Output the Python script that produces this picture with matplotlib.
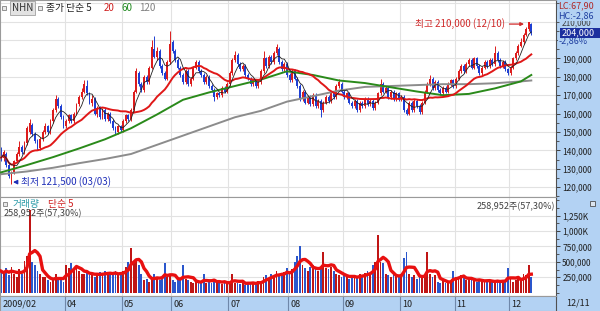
import numpy as np
import pandas as pd
import matplotlib
matplotlib.use("Agg")
import matplotlib.pyplot as plt
from matplotlib.patches import Rectangle
from matplotlib.ticker import FuncFormatter, MultipleLocator
from matplotlib.transforms import blended_transform_factory

plt.rcParams['font.family'] = ['Noto Sans CJK KR', 'DejaVu Sans']

# daily prices, thousand won (2009-02-25 .. 2009-12-11)
opens = [
    140, 136, 138, 132, 126, 128, 134, 138, 142, 139,
    144, 150, 154, 149, 145, 141, 146, 150, 153, 150,
    156, 162, 168, 164, 158, 153, 156, 159, 156, 160,
    165, 169, 172, 175, 171, 166, 168, 160, 163, 158,
    162, 157, 160, 156, 152, 150, 153, 151, 156, 159,
    157, 162, 172, 182, 176, 173, 180, 177, 185, 195,
    191, 194, 186, 182, 179, 188, 199, 194, 189, 185,
    181, 177, 183, 176, 179, 185, 188, 183, 181, 177,
    180, 175, 173, 169, 171, 170, 174, 172, 176, 182,
    189, 192, 187, 184, 186, 181, 179, 176, 178, 175,
    177, 183, 190, 186, 191, 188, 193, 195, 188, 184,
    187, 181, 178, 183, 179, 175, 168, 172, 166, 169,
    165, 170, 164, 167, 162, 166, 169, 167, 171, 169,
    175, 176, 172, 169, 171, 166, 164, 167, 162, 166,
    164, 168, 165, 167, 163, 166, 171, 176, 172, 174,
    169, 172, 168, 171, 168, 169, 162, 160, 166, 162,
    167, 164, 161, 166, 172, 176, 179, 174, 177, 173,
    171, 174, 172, 176, 178, 175, 179, 183, 186, 183,
    187, 189, 185, 190, 186, 182, 185, 188, 186, 189,
    187, 193, 189, 186, 188, 184, 182, 185, 190, 193,
    197, 199, 203, 206, 209]
closes = [
    136, 139, 132, 126, 128, 134, 138, 142, 139, 144,
    152, 155, 149, 145, 141, 146, 150, 153, 150, 156,
    162, 168, 164, 158, 153, 156, 159, 156, 160, 165,
    169, 172, 176, 171, 166, 168, 160, 163, 158, 162,
    157, 160, 156, 152, 150, 153, 151, 156, 159, 157,
    162, 172, 183, 176, 173, 180, 177, 185, 196, 191,
    194, 186, 182, 179, 188, 198, 194, 189, 185, 181,
    177, 183, 176, 179, 185, 188, 183, 181, 177, 180,
    175, 173, 169, 171, 170, 174, 172, 176, 182, 189,
    192, 187, 184, 186, 181, 179, 176, 178, 175, 177,
    183, 190, 186, 191, 188, 193, 196, 188, 184, 187,
    181, 178, 183, 179, 175, 168, 172, 166, 169, 165,
    170, 164, 167, 162, 166, 169, 167, 171, 169, 175,
    177, 172, 169, 171, 166, 164, 167, 162, 166, 164,
    168, 165, 167, 163, 166, 171, 176, 172, 174, 169,
    172, 168, 171, 168, 169, 162, 160, 166, 162, 167,
    164, 161, 166, 172, 176, 179, 174, 177, 173, 171,
    174, 172, 176, 178, 175, 179, 183, 186, 183, 187,
    189, 185, 190, 186, 182, 185, 188, 186, 189, 187,
    193, 189, 186, 188, 184, 182, 185, 190, 193, 197,
    199, 203, 206, 210, 204]
highs = [
    142, 140, 139, 133, 129, 135, 139, 145, 143, 145,
    153, 157, 155, 150, 146, 147, 151, 155, 154, 157,
    163, 170, 169, 165, 159, 157, 160, 160, 161, 166,
    170, 174, 178, 178, 172, 170, 169, 164, 164, 163,
    163, 161, 161, 157, 153, 154, 154, 157, 160, 160,
    163, 173, 185, 183, 177, 181, 181, 186, 200, 202,
    196, 195, 187, 183, 189, 205, 200, 195, 190, 186,
    182, 184, 184, 180, 186, 189, 189, 184, 182, 181,
    181, 176, 174, 172, 172, 175, 175, 177, 183, 190,
    194, 193, 188, 187, 187, 182, 180, 179, 179, 178,
    184, 194, 191, 192, 192, 194, 198, 196, 189, 188,
    188, 182, 184, 184, 180, 176, 173, 173, 170, 170,
    171, 171, 168, 168, 167, 170, 170, 172, 172, 176,
    179, 177, 173, 172, 172, 167, 168, 168, 167, 167,
    169, 169, 168, 168, 167, 172, 179, 177, 175, 175,
    173, 173, 172, 172, 170, 170, 163, 167, 167, 168,
    168, 165, 167, 173, 177, 181, 180, 178, 178, 174,
    175, 175, 177, 179, 179, 180, 184, 187, 187, 188,
    190, 190, 191, 191, 187, 186, 189, 189, 190, 190,
    197, 194, 190, 189, 189, 185, 186, 191, 194, 198,
    201, 204, 207, 210, 209.5]
lows = [
    134, 134, 131, 125, 121.5, 127, 133, 137, 138, 138,
    143, 149, 148, 144, 140, 140, 145, 149, 149, 149,
    155, 161, 163, 157, 152, 152, 155, 155, 155, 159,
    164, 168, 171, 170, 165, 164, 159, 158, 157, 157,
    156, 156, 155, 151, 149, 149, 150, 150, 155, 156,
    156, 161, 171, 175, 172, 172, 176, 176, 184, 190,
    189, 185, 181, 178, 178, 187, 193, 188, 184, 180,
    176, 176, 175, 175, 178, 184, 182, 180, 176, 176,
    174, 172, 167, 168, 169, 169, 171, 171, 175, 181,
    188, 186, 183, 183, 180, 178, 175, 175, 174, 174,
    176, 182, 185, 185, 187, 187, 192, 187, 183, 183,
    180, 177, 177, 178, 174, 167, 167, 165, 165, 164,
    164, 163, 163, 158, 161, 165, 166, 166, 168, 168,
    174, 171, 168, 168, 165, 163, 163, 161, 161, 163,
    163, 164, 164, 162, 162, 165, 170, 171, 171, 168,
    168, 167, 167, 167, 167, 161, 159, 159, 161, 161,
    163, 160, 160, 165, 171, 175, 173, 173, 172, 170,
    170, 171, 171, 175, 174, 174, 178, 182, 182, 182,
    186, 184, 184, 185, 181, 181, 184, 185, 185, 186,
    186, 188, 185, 185, 183, 181, 181, 184, 189, 192,
    196, 198, 202, 205, 203]
# volume, thousand shares
volumes = [
    350, 300, 400, 280, 420, 300, 250, 380, 300,
    520, 600, 1350, 500, 450, 350, 300, 250,
    250, 200, 180, 220, 300, 250, 200, 180,
    450, 400, 480, 380, 420, 350, 300,
    300, 350, 280, 320, 250, 300,
    330, 300, 350, 280, 320, 300, 350, 280,
    300, 350, 420, 500, 720, 480, 550, 450, 300,
    200, 220, 180, 250, 300,
    250, 200, 220, 480, 250, 300, 200, 180, 220, 200, 450, 220, 200,
    180, 160, 200, 150, 170, 310, 160, 180, 150, 220, 190, 160, 140, 180, 150, 170, 300, 160,
    150, 140, 180, 130, 170, 150, 160, 140, 190, 170,
    250, 280, 230, 300, 260, 350, 300, 280, 330, 400,
    300, 380, 500, 600, 750,
    450, 400, 350, 420, 450,
    380, 350, 400, 660, 400, 380, 420, 350,
    300, 280, 260, 300, 250, 230, 280, 260, 240, 300, 270,
    320, 350, 300,
    450, 500, 940, 500, 480,
    300, 280, 250, 300, 270, 260, 300,
    560, 660,
    300, 250, 280, 230, 300, 250, 280,
    660, 300, 250, 280,
    180, 150, 200, 160, 190, 170, 360,
    250, 220, 280, 240, 200, 230, 210,
    200, 180, 220, 190, 170, 210, 190, 180,
    160, 200, 180, 210, 190, 400,
    220, 180, 200, 240, 210, 300, 280, 451.92, 258.952]

# longer moving averages (they need history before the window)
ma_days = [0, 10, 20, 30, 40, 50, 60, 70, 80, 90, 100,
           110, 120, 130, 140, 150, 160, 170, 180, 190, 200, 204]
ma60 = [128, 132, 136.3, 141, 146, 152, 159.5, 167.5, 171.5, 175, 178.5,
        183, 181, 178, 176.6, 174.3, 172, 170, 170.7, 173.7, 177.5, 181]
ma120 = [127, 128.5, 130.5, 133, 135.3, 138, 143, 148, 153, 158, 161.5,
         166.5, 169.5, 172.5, 174.5, 175, 175.5, 176, 176, 176.5, 177.5, 178]

holidays = ['2009-05-01', '2009-05-05', '2009-10-02']
dates = pd.bdate_range('2009-02-25', '2009-12-11')
dates = dates[~dates.isin(pd.to_datetime(holidays))]

df = pd.DataFrame({'open': opens, 'high': highs, 'low': lows, 'close': closes},
                  index=dates) * 1000
df['volume'] = np.array(volumes) * 1000
x = np.arange(len(df))

RED = '#dc1c1c'
BLUE = '#1e3fd2'
VRED = '#c01515'
VBLUE = '#2a56cc'
PANEL = '#b3d2f3'
GRID = '#e2e2e2'

W, H = 600, 311
fig = plt.figure(figsize=(6, 3.11), dpi=100)


def fx(px):
    return px / W


def fy(py):
    return 1 - py / H


ax_p = fig.add_axes([0, fy(197), fx(556), 197 / H])
ax_v = fig.add_axes([0, fy(296), fx(556), 99 / H], sharex=ax_p)
ax_x = fig.add_axes([0, 0, fx(556), 15 / H], sharex=ax_p)
fig.patches.append(Rectangle((fx(556), 0), 1 - fx(556), 1, transform=fig.transFigure,
                             facecolor=PANEL, edgecolor='none', zorder=-1))

# month positions
pos = pd.Series(x, index=dates).groupby(dates.to_period('M')).first()

# ---- price panel
ax_p.set_ylim(114600, 221800)
ax_p.set_xlim(-0.4, 213.5)
for lvl in range(120000, 220001, 10000):
    ax_p.axhline(lvl, color=GRID, lw=0.8, zorder=0)
for p in pos.values[2:]:
    ax_p.axvline(p - 0.5, color=GRID, lw=0.8, zorder=0)
    ax_v.axvline(p - 0.5, color=GRID, lw=0.8, zorder=0)

up = df.close >= df.open
cols = np.where(up, RED, BLUE)
ax_p.vlines(x, df.low, df.high, colors=cols, lw=0.7, zorder=2)
body = np.maximum((df.close - df.open).abs(), 250)
ax_p.bar(x, body, bottom=np.minimum(df.open, df.close), width=0.7, color=cols,
         lw=0, zorder=2)

ax_p.plot(ma_days, np.array(ma120) * 1000, color='#8c8c8c', lw=1.4, zorder=3)
ax_p.plot(ma_days, np.array(ma60) * 1000, color='#2a8a1a', lw=1.4, zorder=3)
ax_p.plot(x, df.close.rolling(20, min_periods=1).mean(), color='#e01818', lw=1.4, zorder=3)
ax_p.plot(x, df.close.rolling(5, min_periods=1).mean(), color='#222222', lw=0.6, zorder=4)

ax_p.yaxis.tick_right()
ax_p.set_yticks(range(120000, 190001, 10000))
ax_p.yaxis.set_minor_locator(MultipleLocator(5000))
ax_p.yaxis.set_major_formatter(FuncFormatter(lambda v, _: f"{v:,.0f}"))
ax_p.tick_params(axis='y', which='major', direction='out', length=3, width=0.7,
                 color='#404040', labelsize=6, pad=1.5, labelcolor='#202020')
ax_p.tick_params(axis='y', which='minor', direction='out', length=2, width=0.6,
                 color='#404040')
ax_p.tick_params(axis='x', bottom=False, labelbottom=False)

hi_idx = int(np.argmax(df.high.values))
lo_idx = int(np.argmin(df.low.values))
hi_val = df.high.iloc[hi_idx]
lo_val = df.low.iloc[lo_idx]
ax_p.annotate(f"최고 {hi_val:,.0f} ({dates[hi_idx]:%m/%d})",
              xy=(hi_idx - 1.8, hi_val - 1300), xytext=(hi_idx - 9, hi_val - 1300),
              ha='right', va='center', fontsize=7, color='#d02a2a',
              arrowprops=dict(arrowstyle='-|>', color='#d02a2a', lw=0.9,
                              mutation_scale=5, shrinkA=1, shrinkB=0))
ax_p.annotate(f"최저 {lo_val:,.0f} ({dates[lo_idx]:%m/%d})",
              xy=(lo_idx + 0.6, lo_val + 1200), xytext=(lo_idx + 3.6, lo_val + 1200),
              ha='left', va='center', fontsize=7, color='#1f2fb8',
              arrowprops=dict(arrowstyle='-|>', color='#1f2fb8', lw=0.9,
                              mutation_scale=6, shrinkA=1, shrinkB=0))

# ---- volume panel
ax_v.set_ylim(-53600, 1553000)
for lvl in range(250000, 1250001, 250000):
    ax_v.axhline(lvl, color=GRID, lw=0.8, zorder=0)
vcols = np.where(up, VRED, VBLUE)
ax_v.bar(x, df.volume, width=0.7, color=vcols, lw=0, zorder=2)
ax_v.plot(x, df.volume.rolling(5, min_periods=1).mean(), color='#e81010', lw=2.4,
          zorder=3)
ax_v.yaxis.tick_right()
ax_v.set_yticks(range(250000, 1250001, 250000))
ax_v.yaxis.set_minor_locator(MultipleLocator(125000))
ax_v.yaxis.set_major_formatter(
    FuncFormatter(lambda v, _: f"{v / 1000:,.0f}K" if v >= 1e6 else f"{v:,.0f}"))
ax_v.tick_params(axis='y', which='major', direction='out', length=3, width=0.7,
                 color='#404040', labelsize=6, pad=1.5, labelcolor='#202020')
ax_v.tick_params(axis='y', which='minor', direction='out', length=2, width=0.6,
                 color='#404040')
ax_v.tick_params(axis='x', bottom=False, labelbottom=False)

# ---- date strip
ax_x.set_facecolor(PANEL)
ax_x.set_ylim(0, 1)
ax_x.set_yticks([])
ax_x.tick_params(axis='x', bottom=False, labelbottom=False)
for i, (per, p) in enumerate(pos.items()):
    if i == 0:
        ax_x.text(0.6, 0.45, f"{per.year}/{per.month:02d}", fontsize=6.5,
                  va='center', ha='left', color='#202020')
    elif i >= 2:
        ax_x.axvline(p - 0.5, color='#6f88aa', lw=0.8)
        ax_x.text(p + 0.2, 0.45, f"{per.month:02d}", fontsize=6.5,
                  va='center', ha='left', color='#202020')

for ax in (ax_p, ax_v, ax_x):
    for side in ('left', 'top', 'bottom'):
        ax.spines[side].set_color('#9a9a9a')
        ax.spines[side].set_linewidth(0.8)
    ax.spines['right'].set_color('#505050')
    ax.spines['right'].set_linewidth(0.8)

# ---- header texts
fig.patches.append(Rectangle((fx(2), fy(10)), 4 / W, 4 / H, transform=fig.transFigure,
                             facecolor='#e8e8e8', edgecolor='#808080', lw=0.6))
fig.patches.append(Rectangle((fx(38), fy(10)), 4 / W, 4 / H, transform=fig.transFigure,
                             facecolor='#e8e8e8', edgecolor='#808080', lw=0.6))
fig.text(fx(12), fy(8), 'NHN', fontsize=7, va='center', ha='left', color='#303030',
         bbox=dict(boxstyle='square,pad=0.2', fc='#e2e2e2', ec='#a0a0a0', lw=0.6))
fig.text(fx(46), fy(8), '종가 단순 5', fontsize=7, va='center', ha='left', color='#202020')
fig.text(fx(104), fy(8), '20', fontsize=7, va='center', ha='left', color='#d02020')
fig.text(fx(121), fy(8), '60', fontsize=7, va='center', ha='left', color='#1f8a1f')
fig.text(fx(139), fy(8), '120', fontsize=7, va='center', ha='left', color='#808080')

last_vol = df.volume.iloc[-1]
vol_ratio = last_vol / df.volume.iloc[-2] * 100
vol_txt = f"{last_vol:,.0f}주({vol_ratio:.2f}%)".replace('.', ',')
fig.patches.append(Rectangle((fx(3), fy(206)), 4 / W, 4 / H, transform=fig.transFigure,
                             facecolor='#e8e8e8', edgecolor='#808080', lw=0.6))
fig.text(fx(13), fy(204), '거래량', fontsize=7, va='center', ha='left', color='#2a9aa8')
fig.text(fx(48), fy(204), '단순 5', fontsize=7, va='center', ha='left', color='#d02020')
fig.text(fx(4), fy(213.5), vol_txt, fontsize=6.5, va='center', ha='left', color='#404040')
fig.text(fx(555), fy(207), vol_txt, fontsize=6.5, va='center', ha='right', color='#404040')
fig.patches.append(Rectangle((fx(590), fy(206)), 5 / W, 5 / H, transform=fig.transFigure,
                             facecolor='#dde6f0', edgecolor='#505050', lw=0.6))

# ---- right panel summary
last = df.close.iloc[-1]
lc = (last / lo_val - 1) * 100
hc = (last / hi_val - 1) * 100
chg = (last / df.close.iloc[-2] - 1) * 100
fig.text(fx(558), fy(6), f"LC:{lc:.2f}".replace('.', ','), fontsize=6.5, va='center',
         ha='left', color='#b02828')
fig.text(fx(562), fy(23), '210,000', fontsize=6, va='center', ha='left', color='#404040',
         zorder=1)
fig.text(fx(558), fy(15.5), f"HC:{hc:.2f}".replace('.', ','), fontsize=6.5, va='center',
         ha='left', color='#2040a0', zorder=2,
         bbox=dict(boxstyle='square,pad=0.1', fc=PANEL, ec='none'))
tr = blended_transform_factory(fig.transFigure, ax_p.transData)
fig.patches.append(Rectangle((fx(560), last - 2700), 1 - fx(560), 5400, transform=tr,
                             facecolor='#1c2f9e', edgecolor='none', zorder=3))
fig.text(fx(562), last, f"{last:,.0f}", transform=tr, fontsize=6.5, va='center',
         ha='left', color='white', zorder=4)
fig.text(fx(559), fy(40.5), f"{chg:.2f}%".replace('.', ','), fontsize=6.5, va='center',
         ha='left', color='#2040a0', zorder=2,
         bbox=dict(boxstyle='square,pad=0.1', fc=PANEL, ec='none'))
fig.text(fx(566), fy(303), f"{dates[-1]:%m/%d}", fontsize=6.5, va='center', ha='left',
         color='#202020')

fig.savefig('out.png', dpi=100)
